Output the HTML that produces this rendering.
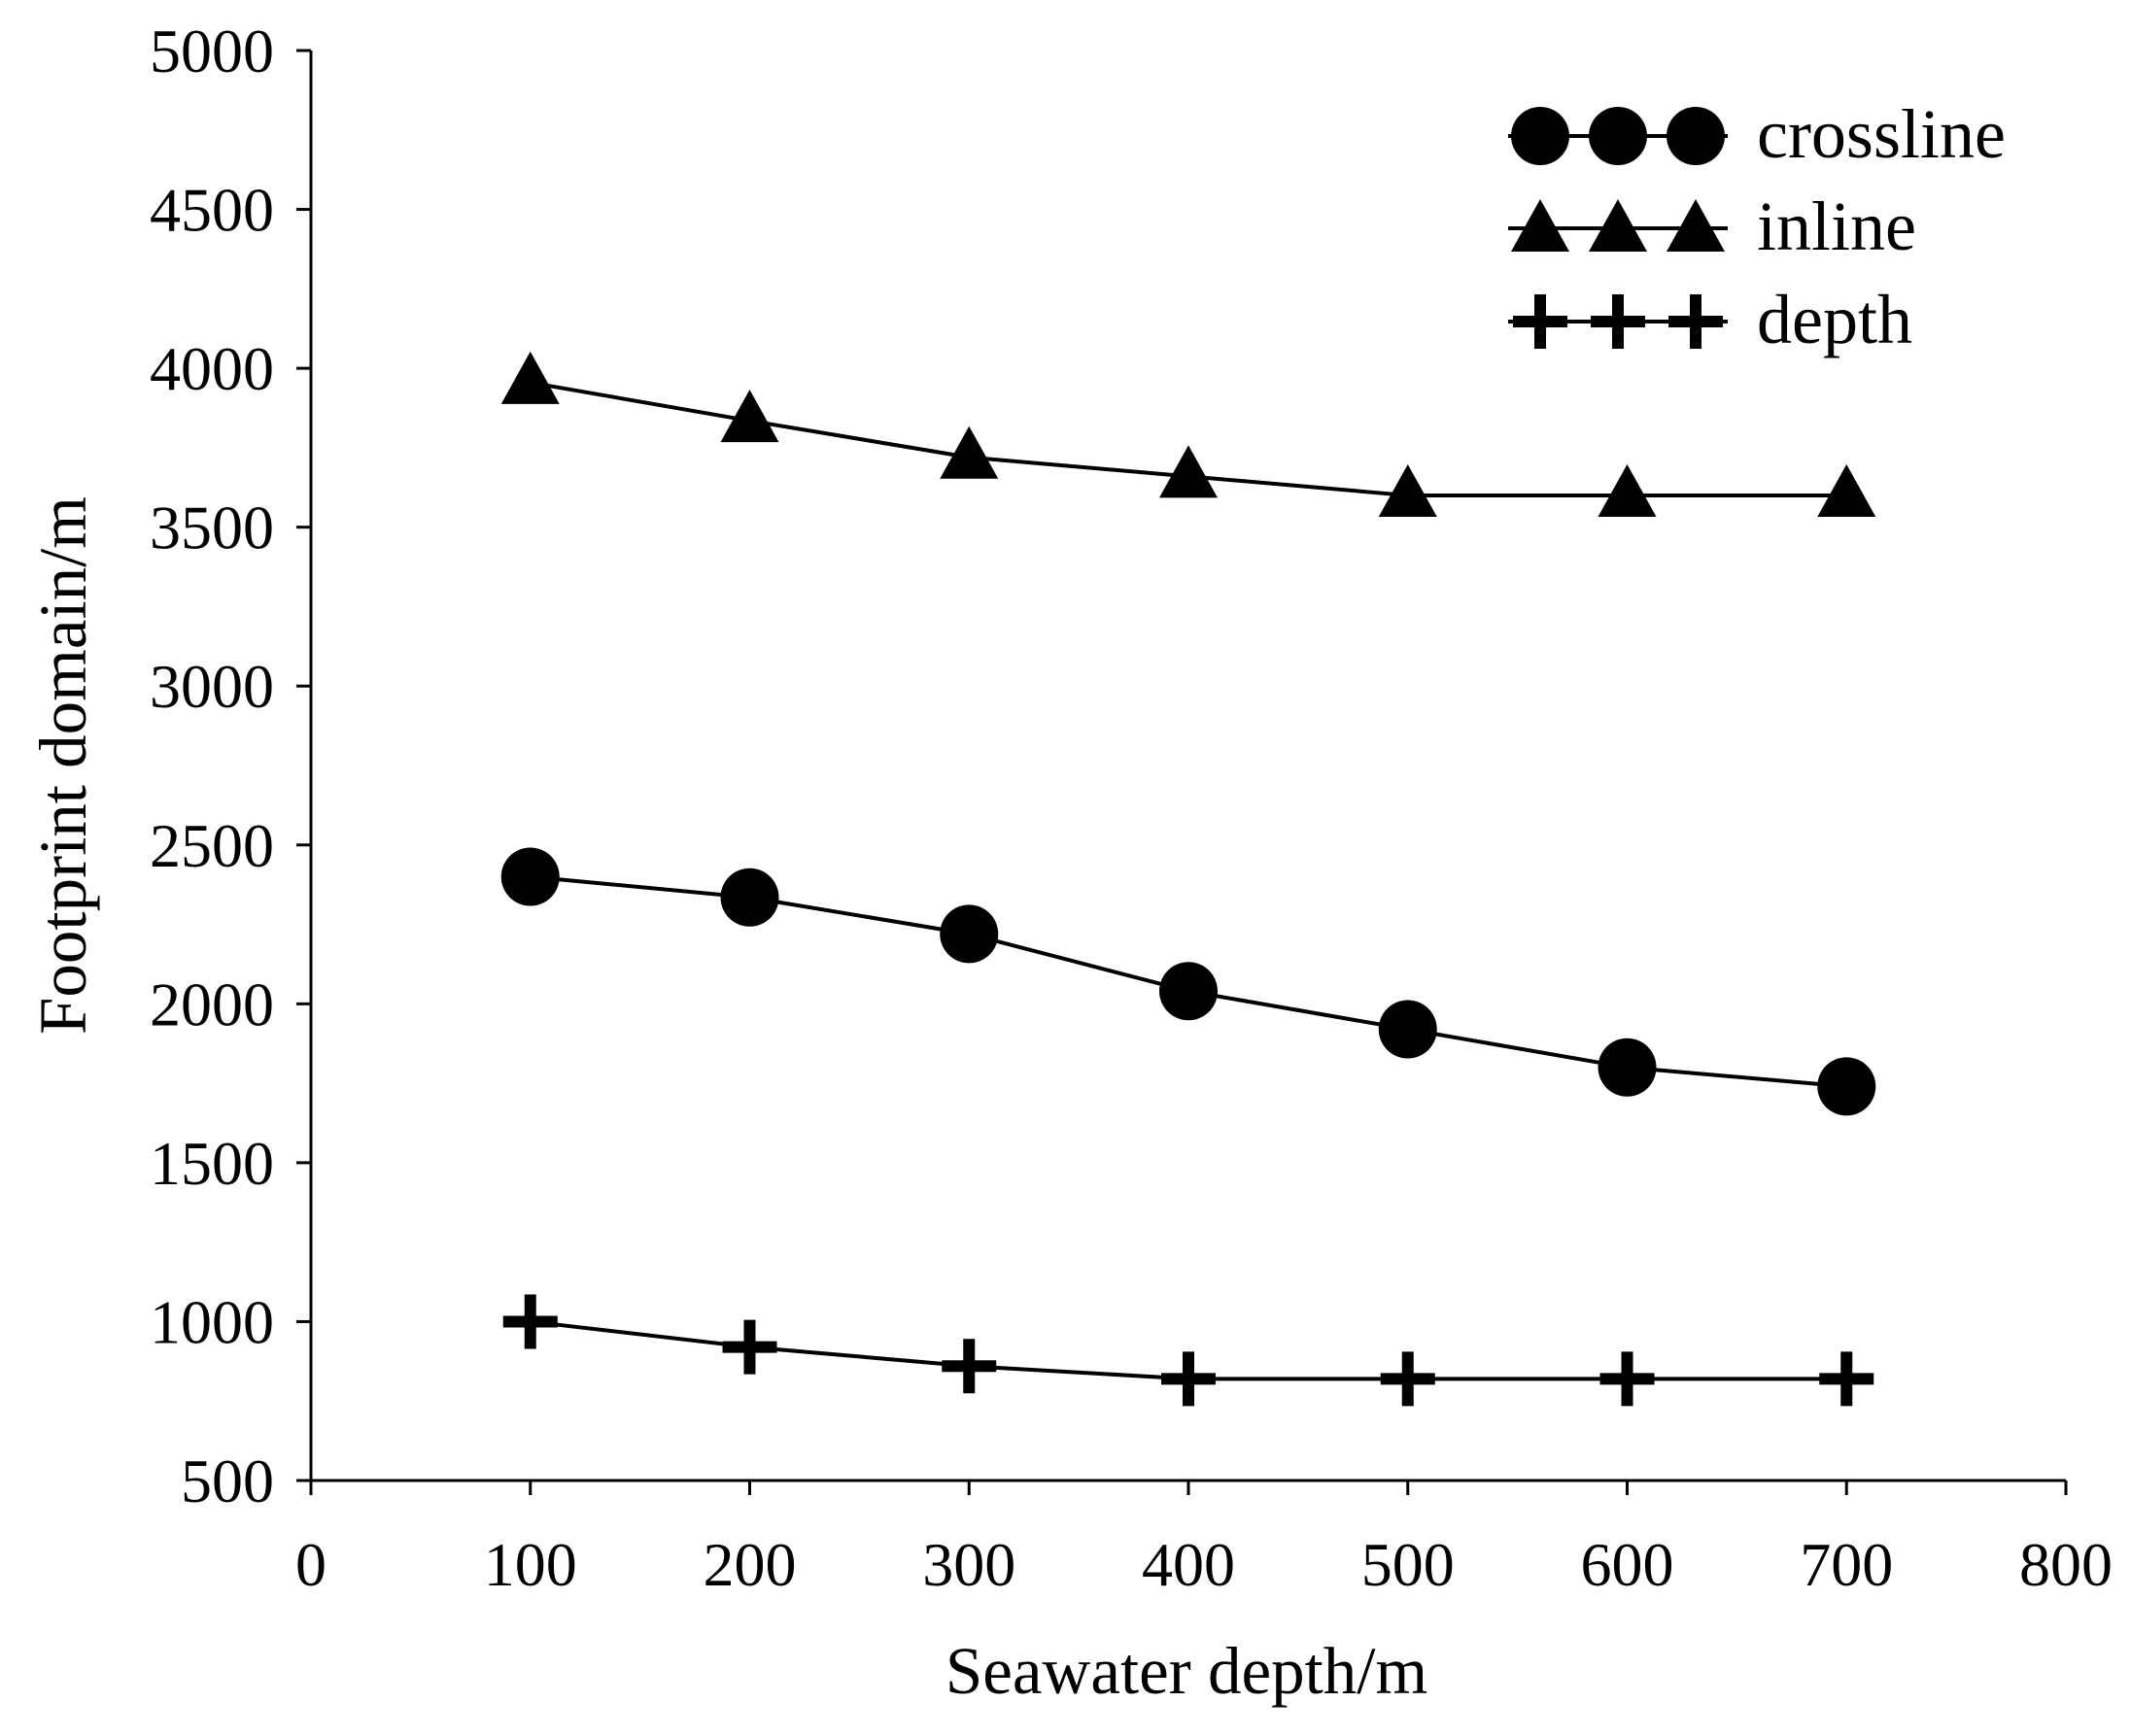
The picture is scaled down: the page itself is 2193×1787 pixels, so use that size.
<!DOCTYPE html>
<html><head><meta charset="utf-8"><style>
body{margin:0;background:#fff}
svg{display:block}
text{font-family:"Liberation Serif",serif;fill:#000}
</style></head><body>
<svg id="chart" width="2193" height="1787" viewBox="0 0 2193 1787" xmlns="http://www.w3.org/2000/svg">
<g id="axes"></g>
<g id="series"></g>
<g id="legend"></g>
<text x="0" y="0" font-size="69" text-anchor="middle" transform="translate(88,788) rotate(-90)">Footprint domain/m</text>
<text x="1221" y="1743" font-size="69" text-anchor="middle">Seawater depth/m</text>
</svg>
<script>
const xCats = [100,200,300,400,500,600,700];
const inlineVals = [3955,3835,3720,3660,3600,3600,3600];
const crosslineVals = [2400,2335,2220,2040,1920,1800,1740];
const depthVals = [1000,920,860,820,820,820,820];
const xTicks = [0,100,200,300,400,500,600,700,800];
const yTicks = [500,1000,1500,2000,2500,3000,3500,4000,4500,5000];

const L=320,R=2126,T=52,B=1524;
const X=v=>L+(v-0)/(800-0)*(R-L);
const Y=v=>B-(v-500)/(5000-500)*(B-T);
const NS='http://www.w3.org/2000/svg';
function mk(tag,attrs,parent){const e=document.createElementNS(NS,tag);for(const k in attrs)e.setAttribute(k,attrs[k]);parent.appendChild(e);return e;}
const axes=document.getElementById('axes'),ser=document.getElementById('series'),leg=document.getElementById('legend');

let e=mk('line',{x1:L,y1:T,x2:L,y2:B,stroke:'#000','stroke-width':3},axes);


e=mk('line',{x1:L,y1:B,x2:R,y2:B,stroke:'#000','stroke-width':3},axes);


yTicks.forEach(v=>{
 const t=mk('line',{x1:L-15,y1:Y(v),x2:L,y2:Y(v),stroke:'#000','stroke-width':3},axes);
 
 
 const tx=mk('text',{x:L-38,y:Y(v)+22,'font-size':64,'text-anchor':'end'},axes);
 tx.textContent=v;
 
 
});
xTicks.forEach(v=>{
 const t=mk('line',{x1:X(v),y1:B,x2:X(v),y2:B+15,stroke:'#000','stroke-width':3},axes);
 
 
 const tx=mk('text',{x:X(v),y:B+108,'font-size':64,'text-anchor':'middle'},axes);
 tx.textContent=v;
 
 
});

function marker(type,cx,cy,g){
 let m;
 if(type==='circle'){m=mk('circle',{cx:cx,cy:cy,r:30,fill:'#000'},g);}
 else if(type==='tri'){m=mk('polygon',{points:`${cx},${cy-32} ${cx-30},${cy+22} ${cx+30},${cy+22}`,fill:'#000'},g);}
 else {m=mk('path',{d:`M${cx-28},${cy}H${cx+28}M${cx},${cy-28}V${cy+28}`,stroke:'#000','stroke-width':12,fill:'none'},g);}
 return m;
}
function drawSeries(vals,type,name){
 const g=mk('g',{},ser);
 
 
 const p=mk('polyline',{points:vals.map((v,i)=>X(xCats[i])+','+Y(v)).join(' '),fill:'none',stroke:'#000','stroke-width':4},g);
 
 
 vals.forEach((v,i)=>{
  const m=marker(type,X(xCats[i]),Y(v),g);
  
  
 });
}
drawSeries(inlineVals,'tri','inline');
drawSeries(crosslineVals,'circle','crossline');
drawSeries(depthVals,'plus','depth');

const legItems=[['circle','crossline',140],['tri','inline',235],['plus','depth',331]];
legItems.forEach(([type,label,y])=>{
 const g=mk('g',{},leg);
 
 
 mk('line',{x1:1552,y1:y,x2:1778,y2:y,stroke:'#000','stroke-width':4},g);
 [1585,1665,1745].forEach(cx=>marker(type,cx,type==='tri'?y+2:y,g));
 const t=mk('text',{x:1808,y:y+22,'font-size':72},g);
 t.textContent=label;
 
 
});
</script>
</body></html>
